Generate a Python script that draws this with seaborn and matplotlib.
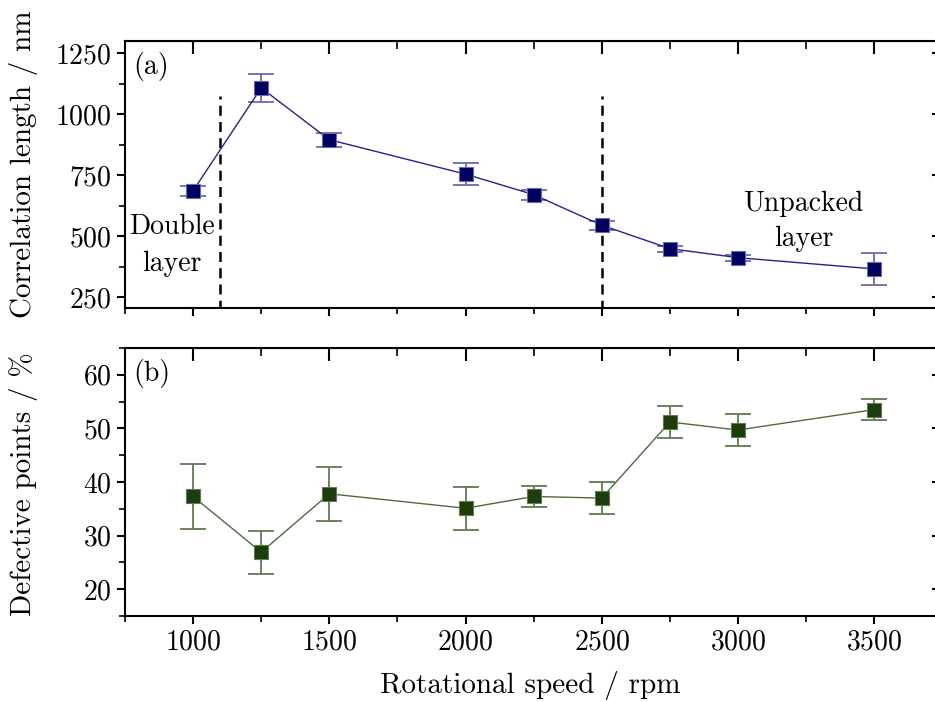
import numpy as np
import pandas as pd
import matplotlib
matplotlib.use("Agg")
import matplotlib.pyplot as plt
from matplotlib.ticker import MultipleLocator
import seaborn as sns

# ---- data ----
speed = [1000, 1250, 1500, 2000, 2250, 2500, 2750, 3000, 3500]
corr_len = [687, 1108, 896, 755, 671, 546, 450, 413, 367]
corr_err = [20, 56, 28, 44, 20, 19, 12, 12, 64]
defect = [37.3, 26.9, 37.8, 35.1, 37.3, 37.0, 51.2, 49.7, 53.5]
defect_err = [6.0, 4.0, 5.0, 4.0, 2.0, 3.0, 3.0, 3.0, 2.0]
boundaries = [1100, 2500]

sns.set_style("ticks")
plt.rcParams["font.family"] = ["cmr10", "DejaVu Serif"]
plt.rcParams["mathtext.fontset"] = "cm"
plt.rcParams["axes.formatter.use_mathtext"] = True
plt.rcParams["axes.unicode_minus"] = False
for k in ["text.color", "axes.labelcolor", "xtick.color", "ytick.color",
          "axes.edgecolor", "xtick.labelcolor", "ytick.labelcolor"]:
    plt.rcParams[k] = "black"

FS = 20
LFS = 21
fig = plt.figure(figsize=(9.35, 7.02), dpi=100)
W, H = 935, 702
def px_axes(l, t, r, b):
    return fig.add_axes([l / W, 1 - b / H, (r - l) / W, (b - t) / H])

ax1 = px_axes(125, 41, 936, 308)
ax2 = px_axes(125, 348, 936, 616)

df1 = pd.DataFrame({"speed": speed, "val": corr_len})
df2 = pd.DataFrame({"speed": speed, "val": defect})

top_mark, top_line, top_err = "#00005e", "#23238a", "#6a6aaa"
bot_mark, bot_line, bot_err = "#1c3c0c", "#4e6b40", "#5f7a50"

for ax, df, err, mc, lc, ec in [
    (ax1, df1, corr_err, top_mark, top_line, top_err),
    (ax2, df2, defect_err, bot_mark, bot_line, bot_err),
]:
    ax.errorbar(df["speed"], df["val"], yerr=err, fmt="none", ecolor=ec,
                elinewidth=1.3, capsize=9.5, capthick=1.3, zorder=2)
    sns.lineplot(data=df, x="speed", y="val", ax=ax, color=lc, linewidth=1.0,
                 marker="s", markersize=9.5, markerfacecolor=mc,
                 markeredgecolor=ec, markeredgewidth=0.8, zorder=3)

for b in boundaries:
    ax1.plot([b, b], [0, 1075], color="black", linestyle=(0, (4, 2.5)),
             linewidth=1.8, zorder=1)

ax1.set_xlim(750, 3727)
ax2.set_xlim(750, 3727)
ax1.set_ylim(207, 1300)
ax2.set_ylim(15, 65)

ax1.set_yticks([250, 500, 750, 1000, 1250])
ax1.yaxis.set_minor_locator(MultipleLocator(125))
ax2.set_yticks([20, 30, 40, 50, 60])
ax2.yaxis.set_minor_locator(MultipleLocator(5))
for ax in (ax1, ax2):
    ax.set_xticks([1000, 1500, 2000, 2500, 3000, 3500])
    ax.xaxis.set_minor_locator(MultipleLocator(250))
    for s in ax.spines.values():
        s.set_linewidth(1.5)
        s.set_visible(True)
        s.set_color("black")
    ax.tick_params(axis="both", which="major", direction="out", length=6,
                   width=1.5, labelsize=FS, top=False, right=False, color="black")
    ax.tick_params(axis="both", which="minor", direction="out", length=4,
                   width=1.2, top=False, right=False, color="black")
    # inward ticks on top and right
    sec_x = ax.secondary_xaxis("top")
    sec_x.set_xticks([1000, 1500, 2000, 2500, 3000, 3500])
    sec_x.xaxis.set_minor_locator(MultipleLocator(250))
    sec_x.tick_params(which="major", direction="in", length=9, width=1.5, labeltop=False)
    sec_x.tick_params(which="minor", direction="in", length=6, width=1.2)
    sec_y = ax.secondary_yaxis("right")
    sec_y.set_yticks(ax.get_yticks())
    sec_y.tick_params(which="major", direction="in", length=3, width=1.5, labelright=False)
    sec_y.tick_params(which="minor", length=0)
    ax.set_xlabel("")
    ax.grid(False)

ax1.tick_params(axis="x", labelbottom=False)
ax1.set_ylabel("Correlation length / nm", fontsize=LFS)
ax2.set_ylabel("Defective points / %", fontsize=LFS)
ax2.set_xlabel("Rotational speed / rpm", fontsize=LFS, labelpad=11)
ax1.yaxis.set_label_coords(-0.107, 0.54)
ax2.yaxis.set_label_coords(-0.107, 0.49)

ax1.text(0.01, 0.96, "(a)", transform=ax1.transAxes, ha="left", va="top", fontsize=FS)
ax2.text(0.01, 0.96, "(b)", transform=ax2.transAxes, ha="left", va="top", fontsize=FS)
ax1.text(923, 464, "Double\nlayer", ha="center", va="center", fontsize=FS, linespacing=1.5)
ax1.text(3240, 562, "Unpacked\nlayer", ha="center", va="center", fontsize=FS, linespacing=1.45)

fig.savefig("out.png", dpi=100)
